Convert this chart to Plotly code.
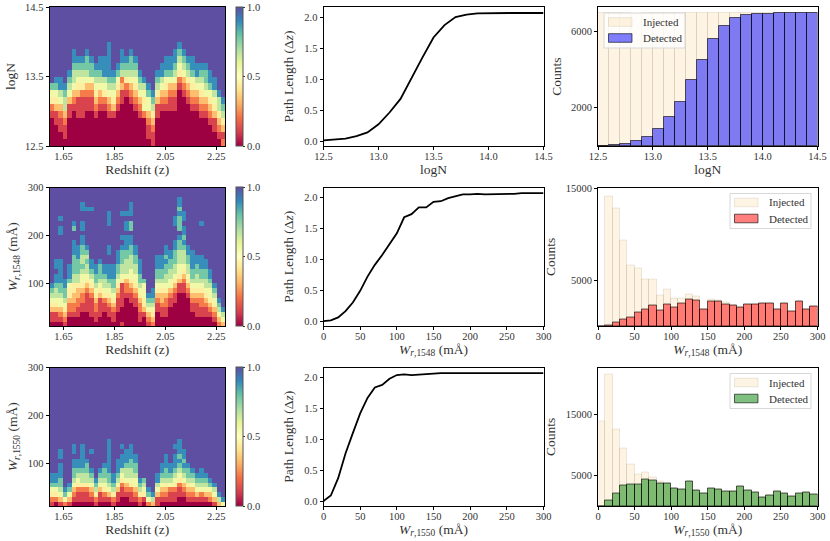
# Injection/recovery summary: completeness maps, path length and counts
# for logN, W_r,1548 and W_r,1550 (one row each).

import plotly.graph_objects as go
from plotly.subplots import make_subplots

FIG_W = 830
FIG_H = 541
SERIF = "Liberation Serif"

# Completeness maps. One string per redshift bin, read from the top of the
# panel down, digit d = completeness d/9. Columns are saturated (9) above
# what is listed.
LOGN_COLS = [
    "754210000", "8754311000", "8865321100", "876632110", "87653110000",
    "88766532100000", "8765431110000", "8765421110000", "87765321100000",
    "8775321100000", "876543210000", "8876532100000", "8886542100000",
    "888887653210000", "87654310000", "875432100000", "88762311000000",
    "8764210000000", "87765321000000", "8765432100000", "87653210000",
    "8654520000", "875532110", "87643211", "87643110000", "886532100000",
    "8875432100000", "8875321100000", "88765321100000", "876542100000000",
    "87653210000000", "8764321000000", "8875432100000", "886532100000",
    "876543210000", "877653210000", "88754321000", "8865431100", "86643210",
    "8764312",
]
W1548_COLS = [
    "876543110", "88988766543110", "89889999988888776553210", "8877654321",
    "8887544322100", "8799888777766443322100", "88877766433221100",
    "88998898877667655432211000", "8999999987676654321111000",
    "8999999999988765432111100", "8877654322110", "87776543111100",
    "8876654211000", "888999988998887654321100", "8887765432110",
    "8887765432111000", "899998987776654111110001",
    "898898887766653221000000", "88897798877666554321100000",
    "88776655432110000", "88877654322110", "7555443100", "8765321",
    "88765432", "888776543211000", "888776543321100", "88787766543221100",
    "8877665532110000", "88999887776654321100000",
    "887877798776665543110000000", "889887876665432110000000",
    "88776654321000000", "8888776543211000", "887766543211100",
    "8999999888776543221100", "88776654321100", "887655432100", "876543210",
    "876532", "8653",
]
W1550_COLS = [
    "8875421", "8875420", "889888776531", "8752", "87531", "8898877653210",
    "8876542110", "8888876642110", "8776642110", "899987653210", "876421",
    "87653110", "877654210", "88888887765310", "8876421", "8887653110",
    "8988865421100", "888766532100", "8887766542110", "88776553210", "876421",
    "765410", "8752", "863", "8865311", "887653210", "88877643210",
    "887652110", "8988876542110", "88878765421100", "887876532100",
    "877643210", "87653210", "8765310", "88765210", "8765310", "875320",
    "86531", "863", "85",
]

# Path length curves
LOGN_X = [12.5, 12.6, 12.7, 12.8, 12.9, 13.0, 13.1, 13.2, 13.3, 13.4, 13.5,
          13.6, 13.7, 13.8, 13.9, 14.0, 14.1, 14.2, 14.3, 14.4, 14.5]
LOGN_PATH = [0.01, 0.02, 0.04, 0.08, 0.14, 0.27, 0.46, 0.68, 1.02, 1.35, 1.67,
             1.87, 2.0, 2.04, 2.06, 2.065, 2.065, 2.065, 2.065, 2.065, 2.065]
W_X = [0, 10, 20, 30, 40, 50, 60, 70, 80, 90, 100, 110, 120, 130, 140, 150,
       160, 170, 180, 190, 200, 210, 220, 230, 240, 250, 260, 270, 280, 290, 300]
W1548_PATH = [0.0, 0.01, 0.06, 0.16, 0.30, 0.49, 0.72, 0.91, 1.07, 1.25, 1.42,
              1.68, 1.73, 1.84, 1.84, 1.93, 1.94, 1.99, 2.02, 2.05, 2.05, 2.06,
              2.05, 2.05, 2.06, 2.06, 2.06, 2.07, 2.07, 2.07, 2.07]
W1550_PATH = [0.0, 0.09, 0.37, 0.77, 1.1, 1.42, 1.67, 1.84, 1.88, 1.98, 2.04,
              2.05, 2.04, 2.05, 2.06, 2.07, 2.07, 2.07, 2.07, 2.07, 2.07, 2.07,
              2.07, 2.07, 2.07, 2.07, 2.07, 2.07, 2.07, 2.07, 2.07]

# Histograms (counts per bin)
LOGN_BINS = [12.55, 12.65, 12.75, 12.85, 12.95, 13.05, 13.15, 13.25, 13.35,
             13.45, 13.55, 13.65, 13.75, 13.85, 13.95, 14.05, 14.15, 14.25,
             14.35, 14.45]
LOGN_INJ = [6950, 6940, 6950, 6930, 6950, 6940, 6950, 6960, 6940, 6950,
            6940, 6950, 6950, 6940, 6950, 6950, 6960, 6950, 6950, 6950]
LOGN_DET = [0, 50, 120, 260, 455, 895, 1545, 2300, 3460, 4530,
            5600, 6300, 6720, 6860, 6915, 6930, 6950, 6950, 6950, 6950]
W_BINS = [5, 15, 25, 35, 45, 55, 65, 75, 85, 95, 105, 115, 125, 135, 145, 155,
          165, 175, 185, 195, 205, 215, 225, 235, 245, 255, 265, 275, 285, 295]
W1548_INJ = [0, 14100, 12800, 9290, 6600, 6270, 5070, 5110, 3360, 3940, 2960,
             3000, 3430, 3180, 1840, 2890, 2780, 2530, 2270, 1980, 2380, 2380,
             2450, 2450, 1800, 2450, 1580, 2640, 1840, 2130]
W1548_DET = [0, 100, 350, 670, 930, 1440, 1760, 2270, 1730, 2380, 2050, 2450,
             2890, 2820, 1840, 2710, 2640, 2380, 2200, 1980, 2380, 2380, 2450,
             2450, 1800, 2450, 1580, 2640, 1840, 2130]
W1550_INJ = [13860, 21520, 12440, 9450, 6850, 5220, 5540, 4730, 4080, 3640,
             2880, 2770, 3970, 2550, 2070, 2930, 2660, 2340, 2340, 3200, 2500,
             2230, 1360, 1740, 2340, 2120, 1580, 2010, 2230, 1850]
W1550_DET = [0, 980, 2120, 3370, 3590, 3590, 4400, 4180, 3750, 3640, 2880,
             2770, 3970, 2550, 2070, 2930, 2660, 2340, 2340, 3200, 2500, 2230,
             1360, 1740, 2340, 2120, 1580, 2010, 2230, 1850]

# Labels and ticks
W1548_LABEL = "<i>W</i><sub><i>r</i>,1548</sub> (mÅ)"
W1550_LABEL = "<i>W</i><sub><i>r</i>,1550</sub> (mÅ)"
Z_TICKS = [1.65, 1.85, 2.05, 2.25]
W_TICKS = [0, 50, 100, 150, 200, 250, 300]
LOGN_TICKS = [12.5, 13.0, 13.5, 14.0, 14.5]

# Panel geometry in pixels
COL_X = [(49.5, 225), (323.5, 543.5), (598, 817.5)]
ROW_Y = [(7, 146), (187.5, 326), (367.5, 506)]

INJ_FILL = "rgba(250,220,170,0.32)"
INJ_EDGE = "rgba(120,90,50,0.13)"
DET_EDGE = "rgba(0,0,0,0.6)"


def px(x):
    return x / FIG_W


def py(y):
    return 1 - y / FIG_H


def rows_from_cols(cols, nrows):
    # columns are listed top-down, heatmap wants rows bottom-up
    full = [c.rjust(nrows, "9") for c in cols]
    return [[int(c[nrows - 1 - r]) / 9 for c in full] for r in range(nrows)]


fig = make_subplots(rows=3, cols=3)

axis_style = dict(
    automargin=False,
    showline=True, mirror=True, linecolor="black", linewidth=1,
    showgrid=False, zeroline=False, ticks="outside", ticklen=3, tickwidth=1,
    tickcolor="black", tickfont=dict(family=SERIF, size=10.5, color="#333"),
    title_font=dict(family=SERIF, size=13.5, color="#333"),
)
x_style = dict(ticklabelstandoff=-3, title_standoff=2)

rows = [
    dict(heat=LOGN_COLS, nrows=20, heat_y=LOGN_BINS, yrange=[12.5, 14.5],
         yticks=[12.5, 13.5, 14.5], label="logN", xticks=LOGN_TICKS,
         xrange=[12.5, 14.5], line_x=LOGN_X, path=LOGN_PATH, bins=LOGN_BINS,
         width=0.1, inj=LOGN_INJ, det=LOGN_DET, det_color="rgba(0,0,255,0.5)",
         count_range=[0, 7280], count_ticks=[2000, 6000], legend_x=604),
    dict(heat=W1548_COLS, nrows=29, heat_y=W_BINS[1:], yrange=[10, 300],
         yticks=[100, 200, 300], label=W1548_LABEL, xticks=W_TICKS,
         xrange=[0, 300], line_x=W_X, path=W1548_PATH, bins=W_BINS,
         width=10, inj=W1548_INJ, det=W1548_DET, det_color="rgba(255,0,0,0.5)",
         count_range=[0, 15100], count_ticks=[5000, 15000], legend_x=730),
    dict(heat=W1550_COLS, nrows=29, heat_y=W_BINS[1:], yrange=[10, 300],
         yticks=[100, 200, 300], label=W1550_LABEL, xticks=W_TICKS,
         xrange=[0, 300], line_x=W_X, path=W1550_PATH, bins=W_BINS,
         width=10, inj=W1550_INJ, det=W1550_DET, det_color="rgba(0,128,0,0.5)",
         count_range=[0, 22650], count_ticks=[5000, 15000], legend_x=730),
]

for i, r in enumerate(rows):
    row = i + 1
    top, bottom = ROW_Y[i]

    fig.add_trace(go.Heatmap(
        z=rows_from_cols(r["heat"], r["nrows"]),
        x0=1.6036, dx=0.01723, y=r["heat_y"],
        zmin=0, zmax=1, colorscale="Spectral",
        colorbar=dict(
            x=px(236), xanchor="left", y=py(bottom), yanchor="bottom",
            len=(bottom - top) / FIG_H, lenmode="fraction", thickness=7,
            xpad=0, ypad=0, outlinecolor="#555", outlinewidth=1,
            tickvals=[0, 0.5, 1], ticktext=["0.0", "0.5", "1.0"],
            ticks="outside", ticklen=2, tickcolor="#333",
            tickfont=dict(family=SERIF, size=10.5, color="#333"),
        ),
    ), row=row, col=1)

    fig.add_trace(go.Scatter(
        x=r["line_x"], y=r["path"], mode="lines",
        line=dict(color="black", width=1.8), showlegend=False,
    ), row=row, col=2)

    fig.add_trace(go.Bar(
        x=r["bins"], y=r["inj"], width=r["width"], name="Injected",
        marker=dict(color=INJ_FILL, line=dict(color=INJ_EDGE, width=1)),
        showlegend=False,
    ), row=row, col=3)
    fig.add_trace(go.Bar(
        x=r["bins"], y=r["det"], width=r["width"], name="Detected",
        marker=dict(color=r["det_color"], line=dict(color=DET_EDGE, width=1)),
        showlegend=False,
    ), row=row, col=3)

    # heatmap axes
    fig.update_xaxes(axis_style, row=row, col=1,
                     domain=[px(COL_X[0][0]), px(COL_X[0][1])],
                     range=[1.595, 2.2842], tickvals=Z_TICKS,
                     ticktext=["1.65", "1.85", "2.05", "2.25"],
                     title_text="Redshift (z)", **x_style)
    fig.update_yaxes(axis_style, row=row, col=1,
                     domain=[py(bottom), py(top)], range=r["yrange"],
                     tickvals=r["yticks"], title_text=r["label"],
                     tickformat=".1f" if i == 0 else "d", title_standoff=6)

    # path length axes
    fig.update_xaxes(axis_style, row=row, col=2,
                     domain=[px(COL_X[1][0]), px(COL_X[1][1])],
                     range=r["xrange"], tickvals=r["xticks"],
                     tickformat=".1f" if i == 0 else "d",
                     title_text=r["label"], **x_style)
    fig.update_yaxes(axis_style, row=row, col=2,
                     domain=[py(bottom), py(top)], range=[-0.08, 2.162],
                     tickvals=[0, 0.5, 1, 1.5, 2], tickformat=".1f",
                     title_text="Path Length (Δ<i>z</i>)", title_standoff=7)

    # count axes
    fig.update_xaxes(axis_style, row=row, col=3,
                     domain=[px(COL_X[2][0]), px(COL_X[2][1])],
                     range=r["xrange"], tickvals=r["xticks"],
                     tickformat=".1f" if i == 0 else "d",
                     title_text=r["label"], **x_style)
    fig.update_yaxes(axis_style, row=row, col=3,
                     domain=[py(bottom), py(top)], range=r["count_range"],
                     tickvals=r["count_ticks"], tickformat="d",
                     title_text="Counts", title_standoff=6)

    # hand-drawn legend, plotly's own swatches are too small for this look
    lx = r["legend_x"]
    ly = top + 6
    x0, x1, y0, y1 = px(lx), px(lx + 81), py(ly), py(ly + 35)
    fig.add_shape(type="rect", xref="paper", yref="paper", x0=x0, x1=x1,
                  y0=y0, y1=y1, fillcolor="rgba(255,255,255,0.8)",
                  line=dict(color="#d8d8d8", width=1))
    for j, (name, fill, edge) in enumerate([
        ("Injected", INJ_FILL, INJ_EDGE),
        ("Detected", r["det_color"], DET_EDGE),
    ]):
        cy = ly + 9 + 16 * j
        fig.add_shape(type="rect", xref="paper", yref="paper",
                      x0=px(lx + 4.5), x1=px(lx + 28), y0=py(cy - 4.3),
                      y1=py(cy + 4.3), fillcolor=fill, line=dict(color=edge, width=1))
        fig.add_annotation(xref="paper", yref="paper", x=px(lx + 37), y=py(cy),
                           xanchor="left", yanchor="middle", text=name, showarrow=False,
                           font=dict(family=SERIF, size=11, color="#333"))

fig.update_layout(
    width=FIG_W, height=FIG_H, margin=dict(l=0, r=0, t=0, b=0),
    barmode="overlay", bargap=0, plot_bgcolor="white", paper_bgcolor="white",
    font=dict(family=SERIF), showlegend=False,
)

fig.write_html("out.html", config=dict(displayModeBar=False),
               post_script="document.body.style.margin='0';")
